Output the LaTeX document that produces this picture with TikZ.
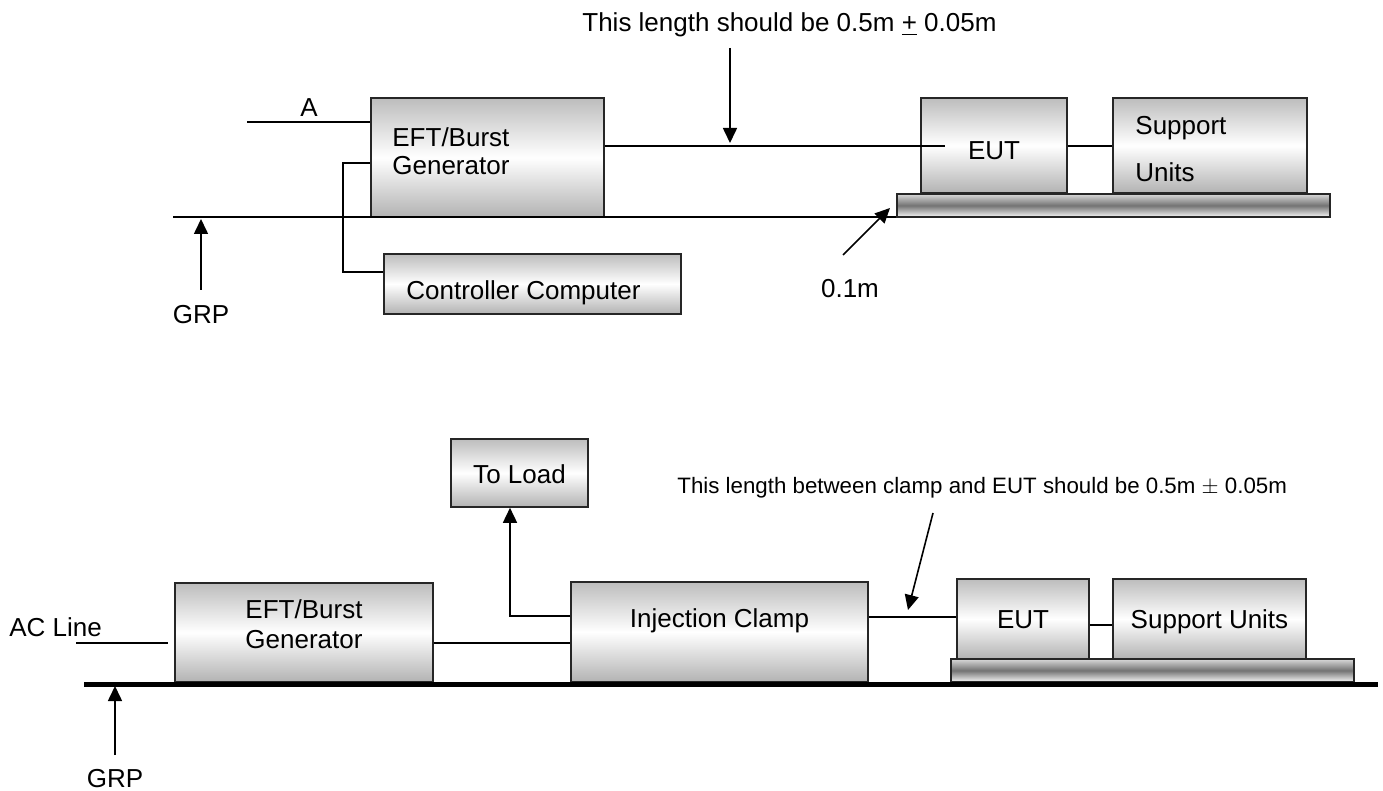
\documentclass[tikz,border=0pt]{standalone}
\usepackage{fontspec}
\setmainfont{Liberation Sans}
\usepackage{tikz}
\usetikzlibrary{arrows.meta}

\begin{document}
\begin{tikzpicture}[x = 0.5pt, y = -0.5pt,
	unit/.style  = {draw = black!85, line width = 0.8pt, inner sep = 0pt, top color = black!26, bottom color = black!30, middle color = white},
	bench/.style = {draw = black!85, line width = 0.8pt, inner sep = 0pt, minimum height = 11.5pt, top color = black!15, bottom color = black!3, middle color = black!55},
	txt/.style   = {font = \fontsize{13}{15.6}\selectfont, inner sep = 0pt, anchor = base},
	note/.style  = {font = \fontsize{11.15}{13.4}\selectfont, inner sep = 0pt, anchor = base west},
	wire/.style  = {line width = 1pt, black},
	thin/.style  = {line width = 0.7pt, black},
	ground/.style = {line width = 2.5pt, black},
	arr/.style   = {line width = 0.8pt, -{Triangle[length = 7.5pt, width = 7pt]}}]

	\useasboundingbox (0, 0) rectangle (1383, 791);

	% upper set-up
	\node[unit, minimum width = 116.5pt, minimum height = 59.5pt] (gen1)   at ( 487.5, 157.5) {};
	\node[unit, minimum width = 148.5pt, minimum height = 30pt]   (ctrl)   at ( 532.5, 284)   {};
	\node[unit, minimum width = 73pt,    minimum height = 47.5pt] (eut1)   at ( 994,   145.5) {};
	\node[unit, minimum width = 97pt,    minimum height = 47.5pt] (sup1)   at (1210,   145.5) {};
	\node[bench, minimum width = 216.5pt]                         (bench1) at (1113.5, 205.5) {};

	\node[txt, anchor = base west] (len1)  at ( 582,  32) {This length should be 0.5m \underline{+} 0.05m};
	\node[txt]                     (lblA)  at ( 309, 117) {A};
	\node[txt, anchor = base west] (gen1a) at ( 392, 147) {EFT/Burst};
	\node[txt, anchor = base west] (gen1b) at ( 392, 175) {Generator};
	\node[txt, anchor = base west] (ctrlt) at ( 406, 300) {Controller Computer};
	\node[txt]                     (eut1t) at ( 994, 160) {EUT};
	\node[txt, anchor = base west] (sup1a) at (1135, 135) {Support};
	\node[txt, anchor = base west] (sup1b) at (1135, 182) {Units};
	\node[txt]                     (grp1)  at ( 201, 324) {GRP};
	\node[txt]                     (m01)   at ( 850, 298) {0.1m};

	\coordinate (a0) at (247, 122);
	\coordinate (c0) at (343, 163);
	\coordinate (c1) at (343, 272);
	\coordinate (g0) at (173, 217);
	\coordinate (g1) at (201, 219);
	\coordinate (w1) at (945, 146);
	\coordinate (t0) at (730, 143);
	\coordinate (m0) at (843, 255);
	\coordinate (m1) at (890, 208);

	\draw[wire] (a0) -- (a0 -| gen1.west); % A
	\draw[wire] (c0 -| gen1.west) -- (c0) -- (c1) -- (c1 -| ctrl.west);
	\draw[wire] (g0) -- (g0 -| bench1.west); % GRP
	\draw[wire] (w1 -| gen1.east) -- (w1);
	\draw[wire] (eut1.east |- w1) -- (sup1.west |- w1);
	\draw[arr] (g1) ++(0, 71) -- (g1);
	\draw[arr] (t0) ++(0, -95) -- (t0);
	\draw[arr] (m0) -- (m1);

	% lower set-up
	\node[unit, minimum width = 129pt,   minimum height = 49.5pt] (gen2)   at ( 304,    632.5) {};
	\node[unit, minimum width = 68.5pt,  minimum height = 34pt]   (toload) at ( 519.5,  473)   {};
	\node[unit, minimum width = 148.5pt, minimum height = 50pt]   (clamp)  at ( 719.5,  632)   {};
	\node[unit, minimum width = 66pt,    minimum height = 40pt]   (eut2)   at (1023,    619)   {};
	\node[unit, minimum width = 96.5pt,  minimum height = 40pt]   (sup2)   at (1209.5,  619)   {};
	\node[bench, minimum width = 201.5pt]                         (bench2) at (1152.5,  670.5) {};

	\node[note]                    (len2)   at ( 677,   494) {This length between clamp and EUT should be 0.5m $\pm$ 0.05m};
	\node[txt]                     (gen2a)  at ( 304,   618) {EFT/Burst};
	\node[txt]                     (gen2b)  at ( 304,   648) {Generator};
	\node[txt]                     (loadt)  at ( 519.5, 483) {To Load};
	\node[txt]                     (clampt) at ( 719.5, 627) {Injection Clamp};
	\node[txt]                     (eut2t)  at (1023,   628) {EUT};
	\node[txt]                     (sup2t)  at (1209.5, 628) {Support Units};
	\node[txt, anchor = base west] (acl)    at (   9,   636) {AC Line};
	\node[txt]                     (grp2)   at ( 115,   787) {GRP};

	\coordinate (ac0) at (  76, 643);
	\coordinate (ac1) at ( 168, 643);
	\coordinate (gp0) at (  84, 684);
	\coordinate (gp1) at (1378, 684);
	\coordinate (g2)  at ( 115, 686);
	\coordinate (w2)  at ( 450, 643);
	\coordinate (l0)  at ( 510, 616);
	\coordinate (w3)  at ( 900, 617);
	\coordinate (w4)  at (1100, 625);
	\coordinate (n0)  at ( 933, 513);
	\coordinate (n1)  at ( 908, 610);

	\draw[thin] (ac0) -- (ac1); % AC Line
	\draw[ground] (gp0) -- (gp1); % GRP
	\draw[thin] (w2 -| gen2.east) -- (w2 -| clamp.west);
	\draw[thin, arr] (l0 -| clamp.west) -- (l0) -- (l0 |- toload.south);
	\draw[thin] (w3 -| clamp.east) -- (w3 -| eut2.west);
	\draw[thin] (w4 -| eut2.east) -- (w4 -| sup2.west);
	\draw[arr] (g2) ++(0, 69) -- (g2);
	\draw[arr] (n0) -- (n1);

\end{tikzpicture}
\end{document}
